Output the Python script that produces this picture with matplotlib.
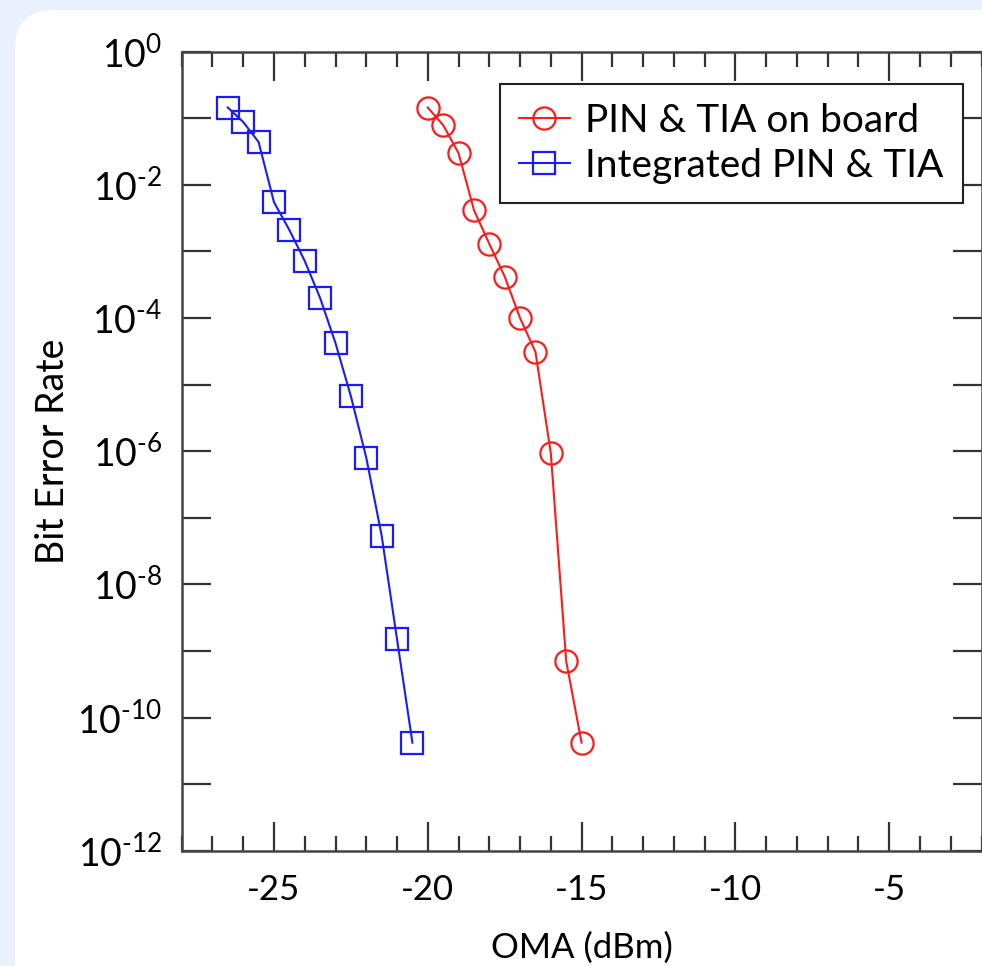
import matplotlib
matplotlib.use("Agg")
import matplotlib.pyplot as plt
from matplotlib.patches import FancyBboxPatch
from matplotlib.ticker import FixedLocator, MultipleLocator

plt.rcParams['font.family'] = ['Lato', 'DejaVu Sans']
plt.rcParams['axes.unicode_minus'] = False
plt.rcParams['mathtext.fontset'] = 'custom'
plt.rcParams['mathtext.rm'] = 'Lato'

# data
board_oma = [-20, -19.5, -19, -18.5, -18, -17.5, -17, -16.5, -16, -15.5, -15]
board_ber = [1.45e-1, 7.9e-2, 3.0e-2, 4.2e-3, 1.3e-3, 4.2e-4, 1.0e-4, 3.1e-5,
             9.3e-7, 7.0e-10, 4.2e-11]

integ_oma = [-26.5, -26, -25.5, -25, -24.5, -24, -23.5, -23, -22.5, -22,
             -21.5, -21, -20.5]
integ_ber = [1.45e-1, 8.8e-2, 4.4e-2, 5.5e-3, 2.1e-3, 7.2e-4, 2.0e-4, 4.2e-5,
             6.7e-6, 8.0e-7, 5.4e-8, 1.5e-9, 4.2e-11]

x_major = [-25, -20, -15, -10, -5]
y_exps = list(range(-12, 1))

W, H = 982, 966
fig = plt.figure(figsize=(W / 100, H / 100), dpi=100)
fig.patch.set_facecolor('#e9f2fc')

# white slide panel with rounded corner
panel = FancyBboxPatch((15 / W, -0.2), 1.2, 1.2 - 10 / H,
                       boxstyle="round,pad=0,rounding_size=0.04",
                       transform=fig.transFigure, facecolor='white',
                       edgecolor='none', zorder=-10)
fig.patches.append(panel)

ax = fig.add_axes([181.7 / W, 1 - 850.7 / H, (981.5 - 181.7) / W, (850.7 - 51.7) / H])
ax.set_facecolor('white')

ax.plot(board_oma, board_ber, color='#ff1a1a', lw=1.5, marker='o', ms=16,
        mfc='none', mec='#ff1a1a', mew=1.6, label='PIN & TIA on board')
ax.plot(integ_oma, integ_ber, color='#1a1aff', lw=1.5, marker='s', ms=16,
        mfc='none', mec='#1a1aff', mew=1.6, label='Integrated PIN & TIA')

ax.set_yscale('log')
ax.set_xlim(-28, -2)
ax.set_ylim(1e-12, 1)

ax.xaxis.set_major_locator(FixedLocator(x_major))
ax.xaxis.set_minor_locator(MultipleLocator(1))
ax.set_xticklabels([str(v) for v in x_major])

ax.yaxis.set_major_locator(FixedLocator([10.0 ** e for e in y_exps]))
ax.yaxis.set_minor_locator(FixedLocator([]))
ylabels = []
for e in y_exps:
    if e % 2:
        ylabels.append('')
    else:
        ylabels.append(r'$\mathregular{10^{%s}}$' % str(e).replace('-', '\u2010'))
ax.set_yticklabels(ylabels)

ax.tick_params(which='both', direction='in', top=True, right=True,
               color='#333333', width=1.6)
ax.tick_params(axis='x', which='major', length=21, pad=17, labelsize=25)
ax.tick_params(axis='x', which='minor', length=10.5)
ax.tick_params(axis='y', which='major', length=21, pad=14, labelsize=27)

for sp in ax.spines.values():
    sp.set_color('#444444')
    sp.set_linewidth(1.8)

ax.set_xlabel('OMA (dBm)', fontsize=25, labelpad=18)
ax.set_ylabel('Bit Error Rate', fontsize=27, labelpad=4)

leg = ax.legend(loc='upper right', bbox_to_anchor=(0.977, 0.96), fontsize=28,
                fancybox=False, framealpha=1, edgecolor='#222222',
                handlelength=1.3, handletextpad=0.4, borderpad=0.5,
                borderaxespad=0, labelspacing=0.22, markerscale=1)
leg.get_frame().set_linewidth(1.5)

fig.savefig('out.png', dpi=100, facecolor=fig.get_facecolor())
